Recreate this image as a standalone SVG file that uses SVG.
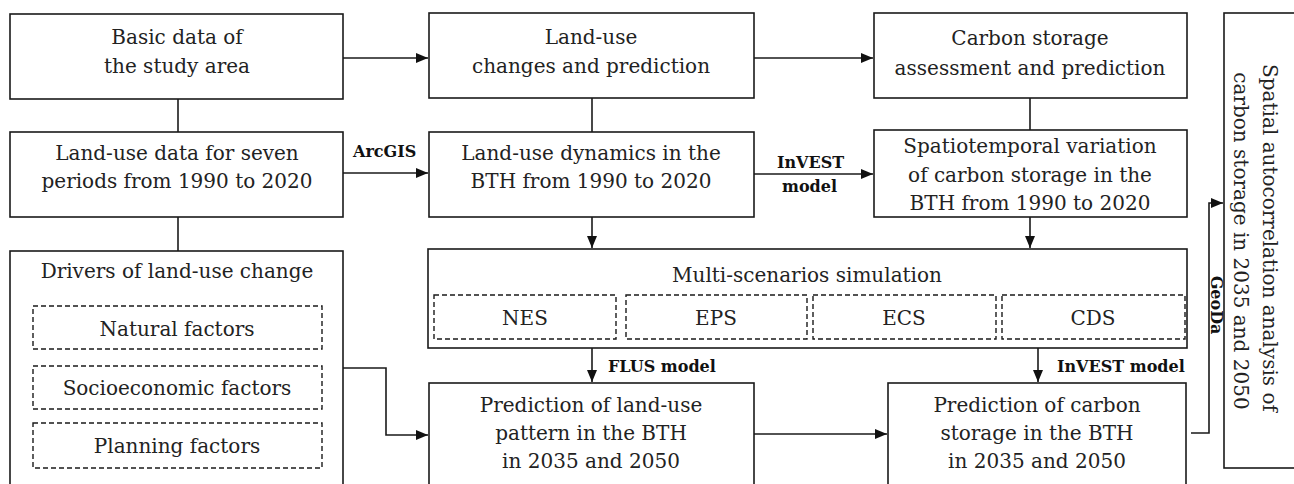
<svg xmlns="http://www.w3.org/2000/svg" width="1294" height="484" viewBox="0 0 1294 484">
<style>
.box{fill:#fff;stroke:#1a1a1a;stroke-width:1.6}
.dash{fill:none;stroke:#1a1a1a;stroke-width:1.4;stroke-dasharray:5,3}
.t{font-family:"DejaVu Serif","Liberation Serif",serif;font-size:20px;fill:#222;text-anchor:middle}
.b{font-family:"DejaVu Serif","Liberation Serif",serif;font-size:16px;font-weight:bold;fill:#111}
.c{fill:none;stroke:#1a1a1a;stroke-width:1.6}
</style>
<defs>
<marker id="ah" viewBox="0 0 12 10" refX="12" refY="5" markerWidth="12" markerHeight="10" markerUnits="userSpaceOnUse" orient="auto">
<path d="M0,0 L12,5 L0,10 Z" fill="#111"/>
</marker>
</defs>
<rect width="1294" height="484" fill="#fff"/>
<g id="connectors">
<line class="c" x1="178" y1="99" x2="178" y2="132"/>
<line class="c" x1="178" y1="217" x2="178" y2="251"/>
<line class="c" x1="592" y1="98" x2="592" y2="132"/>
<line class="c" x1="1030" y1="98" x2="1030" y2="130"/>
<line class="c" x1="343" y1="58" x2="428" y2="58" marker-end="url(#ah)"/>
<line class="c" x1="343" y1="173" x2="428" y2="173" marker-end="url(#ah)"/>
<line class="c" x1="754" y1="58" x2="873" y2="58" marker-end="url(#ah)"/>
<line class="c" x1="754" y1="174" x2="873" y2="174" marker-end="url(#ah)"/>
<line class="c" x1="592" y1="217" x2="592" y2="248" marker-end="url(#ah)"/>
<line class="c" x1="1030" y1="217" x2="1030" y2="248" marker-end="url(#ah)"/>
<line class="c" x1="592" y1="348" x2="592" y2="382" marker-end="url(#ah)"/>
<line class="c" x1="1038" y1="348" x2="1038" y2="382" marker-end="url(#ah)"/>
<polyline class="c" points="343,368 386,368 386,435 428,435" marker-end="url(#ah)"/>
<line class="c" x1="754" y1="434" x2="887" y2="434" marker-end="url(#ah)"/>
<polyline class="c" points="1191,433 1209,433 1209,203 1223,203" marker-end="url(#ah)"/>
<text class="b" x="353" y="157">ArcGIS</text>
<text class="b" x="777" y="168">InVEST</text>
<text class="b" x="782" y="192">model</text>
<text class="b" x="608" y="372">FLUS model</text>
<text class="b" x="1057" y="372">InVEST model</text>
<text class="b" text-anchor="middle" transform="translate(1211,305) rotate(90)">GeoDa</text>
</g>
<g id="basic">
<rect class="box" x="10" y="14" width="333" height="85"/>
<text class="t" x="177" y="44">Basic data of</text>
<text class="t" x="177" y="73">the study area</text>
</g>
<g id="landuse-data">
<rect class="box" x="10" y="132" width="333" height="85"/>
<text class="t" x="177" y="160">Land-use data for seven</text>
<text class="t" x="177" y="188">periods from 1990 to 2020</text>
</g>
<g id="drivers">
<rect class="box" x="10" y="251" width="333" height="240"/>
<text class="t" x="177" y="278">Drivers of land-use change</text>
<rect class="dash" x="33" y="306" width="289" height="43"/>
<text class="t" x="177" y="336">Natural factors</text>
<rect class="dash" x="33" y="366" width="289" height="43"/>
<text class="t" x="177" y="395">Socioeconomic factors</text>
<rect class="dash" x="33" y="423" width="289" height="45"/>
<text class="t" x="177" y="453">Planning factors</text>
</g>
<g id="landuse-changes">
<rect class="box" x="429" y="13" width="325" height="85"/>
<text class="t" x="591" y="44">Land-use</text>
<text class="t" x="591" y="73">changes and prediction</text>
</g>
<g id="landuse-dynamics">
<rect class="box" x="429" y="132" width="325" height="85"/>
<text class="t" x="591" y="160">Land-use dynamics in the</text>
<text class="t" x="591" y="188">BTH from 1990 to 2020</text>
</g>
<g id="carbon-assessment">
<rect class="box" x="874" y="13" width="313" height="85"/>
<text class="t" x="1030" y="45">Carbon storage</text>
<text class="t" x="1030" y="75">assessment and prediction</text>
</g>
<g id="carbon-variation">
<rect class="box" x="874" y="130" width="313" height="87"/>
<text class="t" x="1030" y="153">Spatiotemporal variation</text>
<text class="t" x="1030" y="182">of carbon storage in the</text>
<text class="t" x="1030" y="210">BTH from 1990 to 2020</text>
</g>
<g id="multi-scenarios">
<rect class="box" x="428" y="249" width="759" height="99"/>
<text class="t" x="807" y="282">Multi-scenarios simulation</text>
<rect class="dash" x="434" y="295" width="182" height="44"/>
<text class="t" x="525" y="325">NES</text>
<rect class="dash" x="626" y="295" width="181" height="44"/>
<text class="t" x="716" y="325">EPS</text>
<rect class="dash" x="813" y="295" width="183" height="44"/>
<text class="t" x="904" y="325">ECS</text>
<rect class="dash" x="1002" y="295" width="183" height="44"/>
<text class="t" x="1093" y="325">CDS</text>
</g>
<g id="landuse-prediction">
<rect class="box" x="429" y="383" width="325" height="110"/>
<text class="t" x="591" y="412">Prediction of land-use</text>
<text class="t" x="591" y="440">pattern in the BTH</text>
<text class="t" x="591" y="468">in 2035 and 2050</text>
</g>
<g id="carbon-prediction">
<rect class="box" x="888" y="383" width="298" height="110"/>
<text class="t" x="1037" y="412">Prediction of carbon</text>
<text class="t" x="1037" y="440">storage in the BTH</text>
<text class="t" x="1037" y="468">in 2035 and 2050</text>
</g>
<g id="spatial-autocorrelation">
<rect class="box" x="1224" y="13" width="80" height="455"/>
<text class="t" transform="translate(1263,238) rotate(90)">Spatial autocorrelation analysis of</text>
<text class="t" transform="translate(1234,241) rotate(90)">carbon storage in 2035 and 2050</text>
</g>
</svg>
